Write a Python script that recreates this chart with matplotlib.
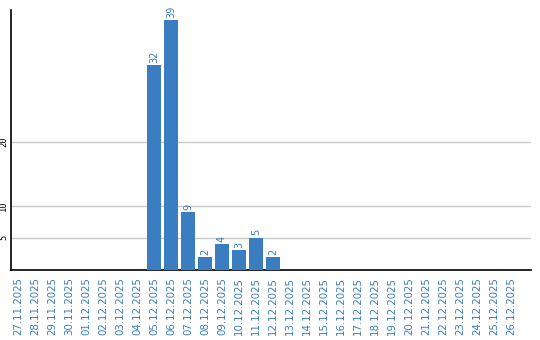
import matplotlib
matplotlib.use("Agg")
import matplotlib.pyplot as plt

dates = ["27.11.2025", "28.11.2025", "29.11.2025", "30.11.2025", "01.12.2025",
         "02.12.2025", "03.12.2025", "04.12.2025", "05.12.2025", "06.12.2025",
         "07.12.2025", "08.12.2025", "09.12.2025", "10.12.2025", "11.12.2025",
         "12.12.2025", "13.12.2025", "14.12.2025", "15.12.2025", "16.12.2025",
         "17.12.2025", "18.12.2025", "19.12.2025", "20.12.2025", "21.12.2025",
         "22.12.2025", "23.12.2025", "24.12.2025", "25.12.2025", "26.12.2025"]
values = [0, 0, 0, 0, 0, 0, 0, 0, 32, 39, 9, 2, 4, 3, 5, 2,
          0, 0, 0, 0, 0, 0, 0, 0, 0, 0, 0, 0, 0, 0]
yticks = [5, 10, 20]

blue = "#3a7dc1"

fig = plt.figure(figsize=(5.4, 3.4), dpi=100)
ax = fig.add_axes([10.5 / 540, 1 - 269.5 / 340, (530.5 - 10.5) / 540, (269.5 - 10) / 340])

x = list(range(len(dates)))
ax.bar(x, values, width=14 / 17, color=blue, zorder=3)
for xi, v in zip(x, values):
    if v > 0:
        ax.annotate(str(v), (xi, v), xytext=(0, 1.5), textcoords="offset points",
                    rotation=90, ha="center", va="bottom", color=blue, fontsize=7)

ax.set_xlim(-0.44, 29 + (530.5 - 511) / 17)
ax.set_ylim(0, 269.5 / 6.4 - 10 / 6.4)
ax.set_yticks(yticks)
ax.set_yticklabels([str(t) for t in yticks], rotation=90, va="center",
                   fontsize=6.3, family="DejaVu Sans Mono")
ax.yaxis.grid(True, color="#c8c8c8", linewidth=1, zorder=0)
ax.tick_params(axis="y", length=0, pad=1.5)
ax.set_xticks(x)
ax.set_xticklabels(dates, rotation=90, color=blue, fontsize=7.4)
ax.tick_params(axis="x", length=0, pad=5.5)

for s in ["top", "right"]:
    ax.spines[s].set_visible(False)
ax.spines["left"].set_linewidth(1.2)
ax.spines["bottom"].set_linewidth(1.2)

fig.savefig("out.png", dpi=100)
